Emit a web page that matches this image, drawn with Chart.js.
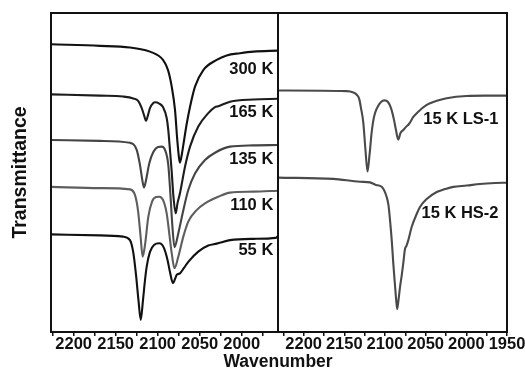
<!DOCTYPE html>
<html><head><meta charset="utf-8">
<script src="https://cdn.jsdelivr.net/npm/chart.js@4.4.1/dist/chart.umd.min.js"></script>
<style>
html,body{margin:0;padding:0;background:#fff;overflow:hidden;}
#wrap{position:relative;width:525px;height:372px;}
canvas{position:absolute;top:0;}
#cl{left:0;}
#cr{left:277px;}
#xt{position:absolute;left:178px;top:350.5px;width:200px;text-align:center;font:bold 17.5px/20px "Liberation Sans",Arial,sans-serif;color:#111;}
</style></head><body>
<div id="wrap">
<canvas id="cl" width="279" height="372"></canvas>
<canvas id="cr" width="248" height="372"></canvas>
<div id="xt">Wavenumber</div>
</div>
<script>
// ---- data (wavenumber, transmittance a.u. with vertical offsets) ----
const wn300 = [2227, 2168.7, 2133, 2125, 2109.2, 2093.7, 2087.7, 2083.3, 2079.4, 2076.7, 2074.6, 2073.5, 2071.4, 2069.5, 2065.5, 2061.5, 2055.6, 2045.7, 2029.8, 2017.9, 2002, 1986.2, 1956.8];
const t300  = [9.02, 8.97, 8.92, 8.89, 8.79, 8.53, 8.21, 7.69, 6.96, 6.02, 5.45, 5.31, 5.55, 5.86, 6.52, 7.06, 7.69, 8.21, 8.53, 8.67, 8.74, 8.79, 8.82];

const wn165 = [2227, 2168.7, 2141.3, 2129, 2123.1, 2119, 2116.3, 2113.9, 2111.2, 2109.2, 2105.2, 2103.2, 2098.1, 2093.7, 2089.3, 2087.4, 2085.4, 2083.3, 2081.4, 2078.6, 2076.4, 2073.5, 2067.5, 2061.5, 2051.7, 2039.8, 2031.8, 2027.9, 2013.9, 1986.2, 1956.8];
const t165  = [7.45, 7.41, 7.38, 7.32, 7.24, 7.02, 6.80, 6.62, 6.83, 7.02, 7.18, 7.20, 7.16, 7.05, 6.71, 6.33, 5.71, 5.02, 4.29, 3.72, 4.04, 4.35, 5.18, 5.81, 6.44, 6.86, 7.05, 7.08, 7.22, 7.29, 7.31];

const wn135 = [2227, 2168.7, 2133, 2125, 2121.1, 2118.3, 2116.3, 2113.9, 2110, 2105.2, 2099.6, 2095.2, 2091.3, 2087.4, 2084.8, 2082.6, 2080, 2075.5, 2069.5, 2063.6, 2055.6, 2043.7, 2031.8, 2013.9, 1986.2, 1956.8];
const t135  = [6.02, 5.99, 5.93, 5.71, 5.24, 4.76, 4.53, 4.76, 5.29, 5.64, 5.80, 5.81, 5.71, 5.24, 4.29, 3.35, 2.66, 3.09, 3.82, 4.45, 4.97, 5.39, 5.62, 5.81, 5.85, 5.86];

const wn110 = [2227, 2168.7, 2133, 2127, 2123.5, 2120.5, 2117.9, 2115.1, 2111.2, 2106.8, 2102, 2098.1, 2093.7, 2089.3, 2086, 2083, 2080, 2075.5, 2069.5, 2063.6, 2053.6, 2043.7, 2027.9, 2013.9, 1986.2, 1956.8];
const t110  = [4.55, 4.51, 4.47, 4.29, 3.82, 3.04, 2.36, 2.73, 3.61, 4.08, 4.23, 4.24, 4.14, 3.72, 3.04, 2.41, 2.00, 2.36, 2.99, 3.46, 3.82, 4.03, 4.24, 4.37, 4.40, 4.43];

const wn55  = [2227, 2168.7, 2141.3, 2133, 2129, 2125.8, 2122.9, 2120.2, 2117.5, 2115.1, 2113.1, 2109.2, 2104.4, 2098.1, 2092.5, 2088.3, 2085.4, 2081.8, 2079.4, 2077.4, 2073.5, 2068.7, 2063.6, 2051.7, 2039.8, 2029.8, 2013.9, 1986.2, 1959.2, 1956.8];
const t55   = [3.06, 3.03, 2.99, 2.88, 2.48, 1.79, 1.00, 0.38, 1.00, 1.63, 2.05, 2.51, 2.73, 2.78, 2.63, 2.26, 1.88, 1.53, 1.66, 1.79, 1.84, 2.01, 2.20, 2.52, 2.71, 2.77, 2.88, 2.92, 2.95, 3.01];

const wnLS  = [2231.5, 2147.1, 2139, 2134.4, 2131.6, 2129.5, 2126.7, 2124, 2121.5, 2119, 2116.3, 2113.5, 2109.8, 2104.9, 2100.6, 2096.3, 2092.6, 2088.9, 2086.5, 2083.6, 2080.9, 2077.5, 2074.2, 2070.5, 2065.2, 2059.4, 2048.7, 2037.3, 2024.1, 1999.6, 1977.1, 1950];
const tLS   = [7.57, 7.55, 7.51, 7.43, 7.30, 7.02, 6.58, 5.71, 5.03, 5.55, 6.27, 6.74, 7.02, 7.21, 7.26, 7.21, 7.02, 6.65, 6.33, 6.03, 6.24, 6.33, 6.43, 6.52, 6.74, 6.90, 7.12, 7.24, 7.33, 7.40, 7.41, 7.41];

const wnHS  = [2231.5, 2163.5, 2130.7, 2118.4, 2111, 2104, 2097.9, 2095.7, 2093.8, 2091.7, 2089.8, 2087.7, 2086.2, 2085, 2083.4, 2081.5, 2079.5, 2077.5, 2075.4, 2073.6, 2071.3, 2067.2, 2061, 2057, 2048.7, 2036.4, 2026.2, 2016, 1999.6, 1983.2, 1964.8, 1950];
const tHS   = [4.84, 4.80, 4.71, 4.69, 4.61, 4.55, 4.23, 3.98, 3.51, 2.88, 2.16, 1.47, 1.00, 0.72, 1.00, 1.41, 1.76, 2.16, 2.60, 2.70, 2.88, 3.29, 3.70, 3.92, 4.17, 4.39, 4.48, 4.55, 4.59, 4.64, 4.67, 4.68];

const ticksLeft  = [2225, 2200, 2175, 2150, 2125, 2100, 2075, 2050, 2025, 2000, 1975];
const ticksRight = [2225, 2200, 2175, 2150, 2125, 2100, 2075, 2050, 2025, 2000, 1975, 1950];

const labelsLeft  = ['300 K', '165 K', '135 K', '110 K', '55 K'];
const labelYLeft  = [8.24, 6.88, 5.41, 3.98, 2.55];
const labelsRight = ['15 K LS-1', '15 K HS-2'];
const labelYRight = [6.67, 3.72];

// ---- rendering ----
const FONT = '"Liberation Sans", Arial, Helvetica, sans-serif';

const framePlugin = {
  id: 'frame',
  afterDatasetsDraw(chart) {
    const {ctx, chartArea: a} = chart;
    ctx.save();
    ctx.strokeStyle = '#111';
    ctx.lineWidth = 2;
    ctx.strokeRect(a.left, a.top, a.right - a.left, a.bottom - a.top);
    ctx.restore();
  }
};

const labelPlugin = {
  id: 'curveLabels',
  afterDatasetsDraw(chart, args, opts) {
    const {ctx, chartArea: a, scales: {y}} = chart;
    ctx.save();
    ctx.font = 'bold 16.5px ' + FONT;
    ctx.fillStyle = '#111';
    ctx.textAlign = 'right';
    ctx.textBaseline = 'middle';
    opts.texts.forEach((t, i) => ctx.fillText(t, a.right - opts.inset, y.getPixelForValue(opts.ys[i])));
    ctx.restore();
  }
};

function ds(label, xs, ys, color) {
  return {
    label,
    data: xs.map((x, i) => ({x, y: ys[i]})),
    borderColor: color,
    borderWidth: 2.1,
    pointRadius: 0,
    fill: false,
    cubicInterpolationMode: 'monotone'
  };
}

function xScale(min, max, ticks) {
  return {
    type: 'linear', min, max, reverse: true,
    afterBuildTicks: s => { s.ticks = ticks.map(v => ({value: v})); },
    afterFit: s => { s.height = 40; s.paddingLeft = 0; s.paddingRight = 0; },
    border: {display: false},
    grid: {drawOnChartArea: false, drawTicks: true, tickLength: 4, color: '#111', lineWidth: 1.5},
    ticks: {
      autoSkip: false, maxRotation: 0, padding: -1, color: '#111',
      font: {family: FONT, size: 16.5, weight: 'bold'},
      callback: v => (v % 50 === 0 ? String(v) : '')
    }
  };
}

const common = {
  responsive: false,
  animation: false,
  devicePixelRatio: 1,
  events: []
};

new Chart(document.getElementById('cl'), {
  type: 'line',
  data: {
    datasets: [
      ds('300 K', wn300, t300, '#111111'),
      ds('165 K', wn165, t165, '#1c1c1c'),
      ds('135 K', wn135, t135, '#444444'),
      ds('110 K', wn110, t110, '#5e5e5e'),
      ds('55 K', wn55, t55, '#111111')
    ]
  },
  options: Object.assign({}, common, {
    layout: {padding: {left: 0, right: 1, top: 13, bottom: 0}},
    scales: {
      x: xScale(1956.8, 2227, ticksLeft),
      y: {
        type: 'linear', min: 0, max: 10, position: 'left',
        afterFit: s => { s.width = 51; s.paddingTop = 0; s.paddingBottom = 0; },
        border: {display: false}, grid: {display: false}, ticks: {display: false},
        title: {display: true, text: 'Transmittance', color: '#111',
                font: {family: FONT, size: 19.5, weight: 'bold'}, padding: {top: 9, bottom: 0}}
      }
    },
    plugins: {
      legend: {display: false}, tooltip: {enabled: false},
      curveLabels: {texts: labelsLeft, ys: labelYLeft, inset: 4.7}
    }
  }),
  plugins: [framePlugin, labelPlugin]
});

new Chart(document.getElementById('cr'), {
  type: 'line',
  data: {
    datasets: [
      ds('15 K LS-1', wnLS, tLS, '#4a4a4a'),
      ds('15 K HS-2', wnHS, tHS, '#4a4a4a')
    ]
  },
  options: Object.assign({}, common, {
    layout: {padding: {left: 1, right: 18, top: 13, bottom: 0}},
    scales: {
      x: xScale(1950, 2231.5, ticksRight),
      y: {type: 'linear', min: 0, max: 10, display: false}
    },
    plugins: {
      legend: {display: false}, tooltip: {enabled: false},
      curveLabels: {texts: labelsRight, ys: labelYRight, inset: 8.5}
    }
  }),
  plugins: [framePlugin, labelPlugin]
});
</script>
</body></html>
